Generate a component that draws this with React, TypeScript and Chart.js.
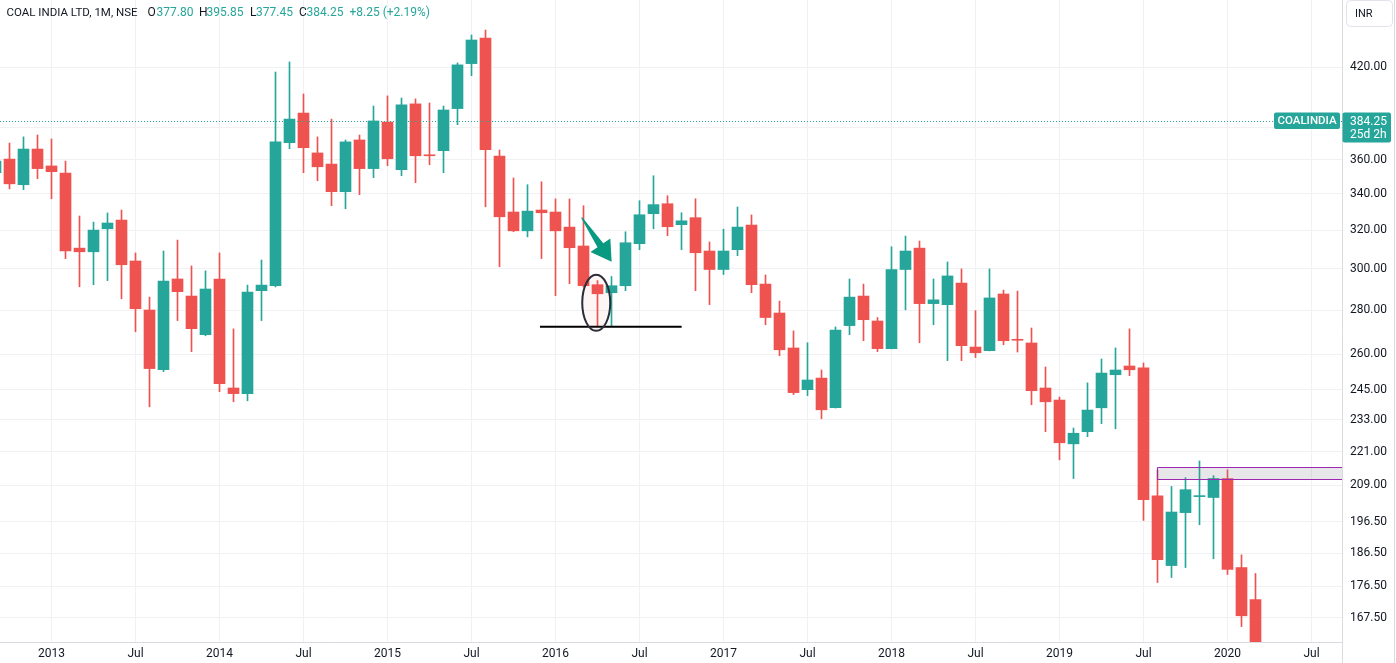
import React, { useEffect, useRef } from 'react';
import { Chart, registerables } from 'chart.js';

Chart.register(...registerables);

// ---------- data ----------
const months = [
  '2012-09','2012-10','2012-11','2012-12',
  '2013-01','2013-02','2013-03','2013-04','2013-05','2013-06','2013-07','2013-08','2013-09','2013-10','2013-11','2013-12',
  '2014-01','2014-02','2014-03','2014-04','2014-05','2014-06','2014-07','2014-08','2014-09','2014-10','2014-11','2014-12',
  '2015-01','2015-02','2015-03','2015-04','2015-05','2015-06','2015-07','2015-08','2015-09','2015-10','2015-11','2015-12',
  '2016-01','2016-02','2016-03','2016-04','2016-05','2016-06','2016-07','2016-08','2016-09','2016-10','2016-11','2016-12',
  '2017-01','2017-02','2017-03','2017-04','2017-05','2017-06','2017-07','2017-08','2017-09','2017-10','2017-11','2017-12',
  '2018-01','2018-02','2018-03','2018-04','2018-05','2018-06','2018-07','2018-08','2018-09','2018-10','2018-11','2018-12',
  '2019-01','2019-02','2019-03','2019-04','2019-05','2019-06','2019-07','2019-08','2019-09','2019-10','2019-11','2019-12',
  '2020-01','2020-02','2020-03',
];
const openPrices = [
  352.2,360.3,345.2,366.4,
  356.2,352.0,310.5,308.6,320.7,325.4,303.9,280.0,253.4,294.9,286.6,268.7,
  294.9,245.8,243.5,289.2,291.6,370.3,389.1,364.0,357.3,341.2,372.0,354.6,
  383.3,354.0,395.1,362.9,365.4,392.0,422.6,441.1,362.1,329.8,319.6,330.9,
  329.8,321.6,311.6,292.1,288.2,291.6,312.8,328.9,334.4,322.9,326.7,309.0,
  299.6,309.7,322.7,292.4,278.6,262.8,245.1,249.9,237.8,272.8,286.6,274.9,
  262.5,299.6,310.5,283.0,282.5,292.9,263.2,261.6,287.6,266.4,265.0,245.8,
  240.9,223.9,228.5,237.8,251.3,255.0,254.2,205.3,182.7,199.6,205.0,204.7,
  211.3,182.1,172.6,
];
const highPrices = [
  362.8,370.1,373.9,375.1,
  372.6,359.1,327.6,324.3,329.3,330.9,308.0,286.1,309.0,314.7,301.4,298.9,
  308.0,271.3,291.9,304.4,416.7,423.8,401.7,373.9,385.2,372.0,375.1,393.7,
  400.4,399.0,398.4,395.7,393.7,423.1,443.3,447.0,365.8,349.1,345.2,346.9,
  337.1,337.1,333.3,294.1,296.1,319.1,336.1,350.4,338.9,329.4,337.2,313.7,
  320.5,332.6,328.2,296.9,284.2,270.4,265.1,253.3,272.2,294.9,292.4,276.5,
  311.2,316.8,314.2,294.9,303.4,299.9,279.7,299.9,289.5,289.0,271.7,254.6,
  242.1,229.9,247.9,258.0,262.8,271.3,256.3,214.3,208.5,211.6,217.6,212.3,
  214.4,186.0,180.3,
];
const lowPrices = [
  349.1,342.8,342.4,348.7,
  337.2,305.1,291.1,292.1,294.1,285.3,270.0,238.2,252.6,275.1,261.2,268.2,
  244.3,240.2,240.6,275.1,291.0,366.6,352.2,347.5,333.3,331.6,339.5,349.3,
  356.3,350.4,346.4,356.9,352.2,381.6,414.2,332.7,301.0,319.1,316.4,305.1,
  286.8,292.6,291.0,272.3,272.3,289.2,309.7,320.7,317.0,309.7,289.2,282.5,
  297.1,306.6,288.2,273.2,259.4,243.1,242.7,233.5,237.7,268.7,266.0,261.2,
  262.4,280.1,265.1,273.2,257.3,257.3,258.6,261.5,264.2,261.0,239.0,228.5,
  218.0,211.3,226.6,231.6,229.6,250.9,197.0,177.6,179.1,182.1,195.6,184.8,
  180.0,165.0,119.0,
];
const closePrices = [
  359.1,345.7,366.4,354.6,
  352.8,309.1,308.6,320.0,323.8,302.0,280.6,253.9,293.9,288.7,271.4,290.0,
  247.6,243.5,288.5,291.9,370.8,385.2,367.2,355.7,341.2,370.8,354.6,384.0,
  360.5,394.4,362.3,362.3,391.1,421.7,439.6,366.0,327.2,319.6,330.3,329.4,
  319.6,310.7,291.6,287.7,291.6,313.3,328.3,333.9,321.8,325.0,308.1,299.6,
  309.0,321.6,292.1,276.5,262.0,243.9,249.1,237.0,270.8,286.1,275.5,262.5,
  299.6,309.0,283.0,284.8,296.4,263.8,260.7,285.7,266.0,266.2,244.7,240.2,
  224.3,227.9,236.9,252.0,253.3,253.4,204.0,184.5,199.8,207.4,205.3,211.3,
  181.5,168.0,137.0,
];

const xTickMonths = [
  '2013-01','2013-07','2014-01','2014-07','2015-01','2015-07','2016-01','2016-07',
  '2017-01','2017-07','2018-01','2018-07','2019-01','2019-07','2020-01','2020-07',
];
const xTickLabels = [
  '2013','Jul','2014','Jul','2015','Jul','2016','Jul',
  '2017','Jul','2018','Jul','2019','Jul','2020','Jul',
];
const yTickValues = [420, 380, 360, 340, 320, 300, 280, 260, 245, 233, 221, 209, 196.5, 186.5, 176.5, 167.5];

const symbolTitle = 'COAL INDIA LTD, 1M, NSE';
const headerOpen = '377.80';
const headerHigh = '395.85';
const headerLow = '377.45';
const headerClose = '384.25';
const headerChange = '+8.25 (+2.19%)';
const lastPrice = 384.25;
const lastPriceTicker = 'COALINDIA';
const lastPriceCountdown = '25d 2h';
const currency = 'INR';

// drawings (in data space: month index since Jan 2013, price)
const supportLineFrom = 34.89;
const supportLineTo = 45.01;
const supportLinePrice = 272.3;
const ellipseMonth = 38.91;
const ellipsePrice = 283.4;
const arrowFromMonth = 37.87;
const arrowFromPrice = 326.7;
const arrowToMonth = 40.01;
const arrowToPrice = 303.5;
const zoneFromMonth = 78.93;
const zoneTopPrice = 215.3;
const zoneBottomPrice = 211.0;

// view range
const xMin = -3.678571;
const xMax = 92.178571;
const yMin = 160.8;
const yMax = 469.98;

const UP = '#26a69a';
const DOWN = '#ef5350';
const TEXT = '#131722';
const GRID = '#f0f1f3';
const AXIS = '#d9dbe0';
const FONT = 'Roboto';

function monthIndex(s: string): number {
  const [y, m] = s.split('-').map(Number);
  return (y - 2013) * 12 + (m - 1);
}

function roundRect(ctx: CanvasRenderingContext2D, x: number, y: number, w: number, h: number, r: number) {
  ctx.beginPath();
  ctx.moveTo(x + r, y);
  ctx.lineTo(x + w - r, y);
  ctx.quadraticCurveTo(x + w, y, x + w, y + r);
  ctx.lineTo(x + w, y + h - r);
  ctx.quadraticCurveTo(x + w, y + h, x + w - r, y + h);
  ctx.lineTo(x + r, y + h);
  ctx.quadraticCurveTo(x, y + h, x, y + h - r);
  ctx.lineTo(x, y + r);
  ctx.quadraticCurveTo(x, y, x + r, y);
  ctx.closePath();
}

const drawingsPlugin = {
  id: 'drawings',
  afterDatasetsDraw(chart: any) {
    const { ctx, chartArea, scales } = chart;
    const xs = scales.x;
    const ys = scales.y;
    ctx.save();
    ctx.beginPath();
    ctx.rect(chartArea.left, chartArea.top, chartArea.right - chartArea.left, chartArea.bottom - chartArea.top);
    ctx.clip();

    // last price dotted line
    const py = Math.round(ys.getPixelForValue(lastPrice)) + 0.5;
    ctx.strokeStyle = UP;
    ctx.lineWidth = 1;
    ctx.setLineDash([1, 2]);
    ctx.beginPath();
    ctx.moveTo(chartArea.left, py);
    ctx.lineTo(chartArea.right, py);
    ctx.stroke();
    ctx.setLineDash([]);

    // zone rectangle
    const zx = xs.getPixelForValue(zoneFromMonth);
    const zt = Math.round(ys.getPixelForValue(zoneTopPrice)) + 0.5;
    const zb = Math.round(ys.getPixelForValue(zoneBottomPrice)) + 0.5;
    ctx.fillStyle = 'rgba(120,123,134,0.18)';
    ctx.fillRect(zx, zt, chartArea.right - zx, zb - zt);
    ctx.strokeStyle = '#9c27b0';
    ctx.lineWidth = 1;
    ctx.beginPath();
    ctx.moveTo(chartArea.right, zt);
    ctx.lineTo(Math.round(zx) + 0.5, zt);
    ctx.lineTo(Math.round(zx) + 0.5, zb);
    ctx.lineTo(chartArea.right, zb);
    ctx.stroke();

    // horizontal support line
    const sy = ys.getPixelForValue(supportLinePrice);
    ctx.strokeStyle = '#000000';
    ctx.lineWidth = 2;
    ctx.beginPath();
    ctx.moveTo(xs.getPixelForValue(supportLineFrom), sy);
    ctx.lineTo(xs.getPixelForValue(supportLineTo), sy);
    ctx.stroke();

    // ellipse
    const ex = xs.getPixelForValue(ellipseMonth);
    const ey = ys.getPixelForValue(ellipsePrice);
    ctx.beginPath();
    ctx.ellipse(ex, ey, 14, 28, 0, 0, Math.PI * 2);
    ctx.fillStyle = 'rgba(239,83,80,0.06)';
    ctx.fill();
    ctx.strokeStyle = '#2a2e39';
    ctx.lineWidth = 2;
    ctx.stroke();

    // arrow
    const ax0 = xs.getPixelForValue(arrowFromMonth);
    const ay0 = ys.getPixelForValue(arrowFromPrice);
    const ax1 = xs.getPixelForValue(arrowToMonth);
    const ay1 = ys.getPixelForValue(arrowToPrice);
    const dx = ax1 - ax0;
    const dy = ay1 - ay0;
    const len = Math.hypot(dx, dy);
    const ux = dx / len;
    const uy = dy / len;
    const px = uy;
    const pyy = -ux;
    const headLen = 20;
    const headHalf = 12;
    const shaftHalf = 3.5;
    const bx = ax1 - ux * headLen;
    const by = ay1 - uy * headLen;
    ctx.fillStyle = '#089981';
    ctx.beginPath();
    ctx.moveTo(ax0 + px * 0.6, ay0 + pyy * 0.6);
    ctx.lineTo(bx + px * shaftHalf, by + pyy * shaftHalf);
    ctx.lineTo(bx + px * headHalf, by + pyy * headHalf);
    ctx.lineTo(ax1, ay1);
    ctx.lineTo(bx - px * headHalf, by - pyy * headHalf);
    ctx.lineTo(bx - px * shaftHalf, by - pyy * shaftHalf);
    ctx.lineTo(ax0 - px * 0.6, ay0 - pyy * 0.6);
    ctx.closePath();
    ctx.fill();

    ctx.restore();
  },
  afterDraw(chart: any) {
    const { ctx, chartArea, scales, width, height } = chart;
    const ys = scales.y;
    ctx.save();

    // frame lines
    ctx.strokeStyle = AXIS;
    ctx.lineWidth = 1;
    ctx.beginPath();
    ctx.moveTo(chartArea.right + 0.5, 0);
    ctx.lineTo(chartArea.right + 0.5, height);
    ctx.moveTo(0, chartArea.bottom + 0.5);
    ctx.lineTo(chartArea.right, chartArea.bottom + 0.5);
    ctx.moveTo(width - 1.5, 0);
    ctx.lineTo(width - 1.5, height);
    ctx.stroke();

    // last price labels
    const py = ys.getPixelForValue(lastPrice);
    ctx.fillStyle = UP;
    roundRect(ctx, chartArea.right - 68, py - 8, 66, 16.5, 2);
    ctx.fill();
    roundRect(ctx, chartArea.right + 0.5, py - 8, 48.5, 30, 2);
    ctx.fill();
    ctx.fillStyle = '#ffffff';
    ctx.textBaseline = 'middle';
    ctx.textAlign = 'center';
    ctx.font = `500 11.5px ${FONT}`;
    ctx.fillText(lastPriceTicker, chartArea.right - 35, py + 0.5);
    ctx.textAlign = 'left';
    ctx.font = `12px ${FONT}`;
    ctx.fillText(lastPrice.toFixed(2), chartArea.right + 8, py + 1);
    ctx.fillText(lastPriceCountdown, chartArea.right + 8, py + 14);

    // currency box
    ctx.strokeStyle = '#e0e3eb';
    ctx.lineWidth = 1;
    roundRect(ctx, chartArea.right + 4.5, 0.5, 46, 26, 4);
    ctx.fillStyle = '#ffffff';
    ctx.fill();
    ctx.stroke();
    ctx.fillStyle = TEXT;
    ctx.font = `11px ${FONT}`;
    ctx.textAlign = 'left';
    ctx.fillText(currency, chartArea.right + 13, 14);

    // header legend
    ctx.textBaseline = 'middle';
    const hy = 13;
    ctx.font = `11.5px ${FONT}`;
    ctx.fillStyle = TEXT;
    ctx.fillText(symbolTitle, 6.5, hy);
    ctx.font = `12px ${FONT}`;
    const parts: [string, number, string][] = [
      ['O', 147.5, TEXT], [headerOpen, 156.5, UP],
      ['H', 199, TEXT], [headerHigh, 206.5, UP],
      ['L', 250, TEXT], [headerLow, 256, UP],
      ['C', 299, TEXT], [headerClose, 306.5, UP],
      [headerChange, 349.5, UP],
    ];
    for (const [t, x, c] of parts) {
      ctx.fillStyle = c;
      ctx.fillText(t, x, hy);
    }
    ctx.restore();
  },
};

export default function App() {
  const canvasRef = useRef<HTMLCanvasElement | null>(null);

  useEffect(() => {
    if (!canvasRef.current) return;
    const xs = months.map(monthIndex);
    const colors = months.map((_, i) => (closePrices[i] >= openPrices[i] ? UP : DOWN));
    const bodies = xs.map((x, i) => ({ x, y: [openPrices[i], closePrices[i]] }));
    const wicks = xs.map((x, i) => ({ x, y: [lowPrices[i], highPrices[i]] }));
    const tickIdx = xTickMonths.map(monthIndex);

    const chart = new Chart(canvasRef.current, {
      type: 'bar',
      data: {
        datasets: [
          {
            label: 'body',
            data: bodies as any,
            backgroundColor: colors,
            barThickness: 11,
            grouped: false,
            minBarLength: 1,
            borderWidth: 0,
            order: 0,
          } as any,
          {
            label: 'wick',
            data: wicks as any,
            backgroundColor: colors,
            barThickness: 1,
            grouped: false,
            borderWidth: 0,
            order: 1,
          } as any,
        ],
      },
      options: {
        animation: false,
        responsive: true,
        maintainAspectRatio: false,
        events: [],
        layout: { padding: 0 },
        plugins: { legend: { display: false }, tooltip: { enabled: false }, title: { display: false } },
        scales: {
          x: {
            type: 'linear',
            position: 'bottom',
            min: xMin,
            max: xMax,
            offset: false,
            afterBuildTicks: (s: any) => {
              s.ticks = tickIdx.map((v) => ({ value: v }));
            },
            afterFit: (s: any) => {
              s.height = 21;
              s.paddingLeft = 0;
              s.paddingRight = 0;
              s.paddingTop = 0;
              s.paddingBottom = 0;
            },
            ticks: {
              autoSkip: false,
              maxRotation: 0,
              minRotation: 0,
              padding: 5,
              color: TEXT,
              font: { family: FONT, size: 12 },
              callback: (v: any) => {
                const k = tickIdx.indexOf(Number(v));
                return k >= 0 ? xTickLabels[k] : '';
              },
            },
            grid: { color: GRID, drawTicks: false, offset: false, lineWidth: 1 },
            border: { display: false },
          },
          y: {
            type: 'logarithmic',
            position: 'right',
            min: yMin,
            max: yMax,
            afterBuildTicks: (s: any) => {
              s.ticks = yTickValues.map((v) => ({ value: v }));
            },
            afterFit: (s: any) => {
              s.width = 54;
              s.paddingLeft = 0;
              s.paddingRight = 0;
              s.paddingTop = 0;
              s.paddingBottom = 0;
            },
            ticks: {
              autoSkip: false,
              padding: 8,
              color: TEXT,
              font: { family: FONT, size: 12 },
              callback: (v: any) => Number(v).toFixed(2),
            },
            grid: { color: GRID, drawTicks: false, lineWidth: 1 },
            border: { display: false },
          },
        },
      } as any,
      plugins: [drawingsPlugin],
    });
    return () => chart.destroy();
  }, []);

  return (
    <div style={{ position: 'absolute', left: 0, top: 0, width: 1396, height: 663, background: '#ffffff' }}>
      <canvas ref={canvasRef} />
    </div>
  );
}
